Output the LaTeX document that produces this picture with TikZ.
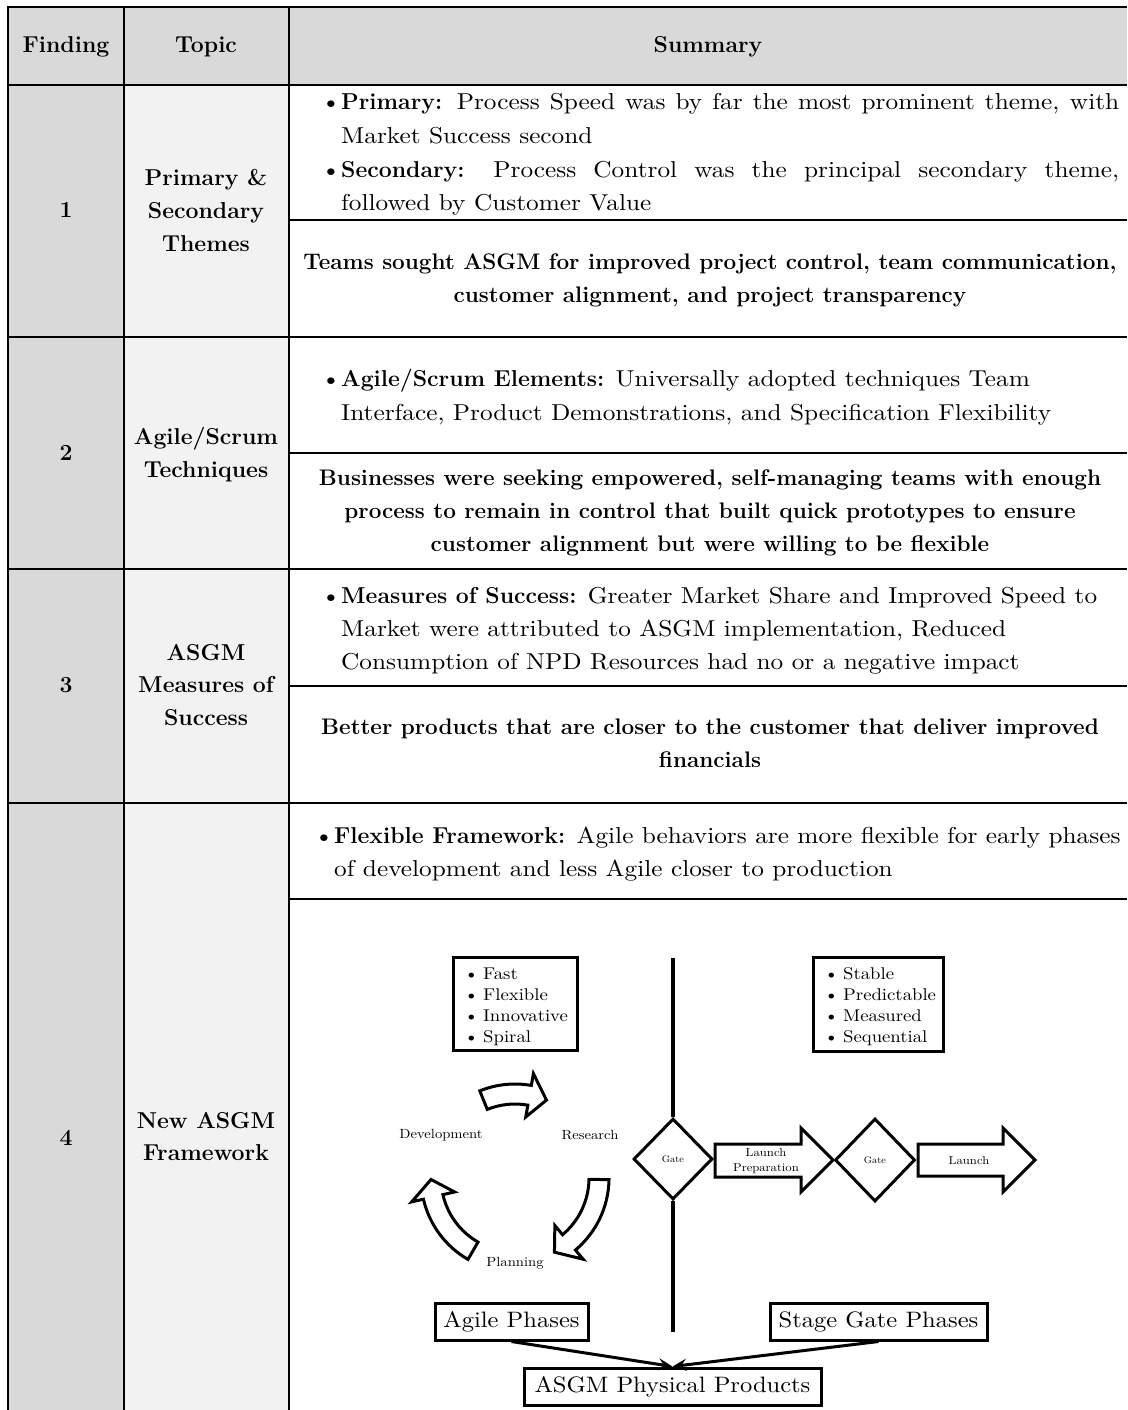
\documentclass[tikz,border=0pt]{standalone}
\usepackage{fontspec}
\usetikzlibrary{calc,arrows.meta,shapes.geometric}
\newfontfamily\bodyrm{lmroman10-regular}[Extension=.otf, FakeStretch=1.1]
\definecolor{hdrgray}{HTML}{D9D9D9}
\definecolor{litegray}{HTML}{F2F2F2}
\newcommand{\fbody}{\bodyrm\fontsize{23}{33}\selectfont}
\newcommand{\fbold}{\fontsize{23}{33}\selectfont\bfseries}
\newcommand{\fcent}{\fontsize{22.5}{33}\selectfont\bfseries}
\newcommand{\bl}[1]{{\normalfont\fontsize{23}{33}\selectfont\bfseries #1}}
\newcommand{\fitem}{\bodyrm\fontsize{17}{21}\selectfont}
\newcommand{\fcyc}{\bodyrm\fontsize{13.3}{15}\selectfont}
\newcommand{\fgate}{\bodyrm\fontsize{9.5}{12}\selectfont}
\newcommand{\flaunch}{\bodyrm\fontsize{11.5}{14.5}\selectfont}
\newcommand{\fbig}{\bodyrm\fontsize{22.3}{26}\selectfont}
\newcommand{\cycarrow}[3]{%
  \draw[blk] ($(cc)+(#1:74)$) arc[start angle=#1, end angle=#2, radius=74]
    -- ($(cc)+(#2:62)$) -- ($(cc)+(#3:84)$) -- ($(cc)+(#2:106)$)
    -- ($(cc)+(#2:94)$) arc[start angle=#2, end angle=#1, radius=94] -- cycle;}
\tikzset{
  tbl/.style={line width=2pt, black},
  txt/.style={anchor=base west, inner sep=0pt, font=\fbody},
  ctxt/.style={anchor=base, inner sep=0pt, font=\fbold},
  cline/.style={anchor=base, inner sep=0pt, font=\fcent},
  box/.style={draw, line width=3pt, fill=white, inner sep=0pt},
  vline/.style={line width=4pt},
  blk/.style={draw, line width=3pt, fill=white, line join=miter},
  conn/.style={line width=3pt, -{Stealth[length=14pt,width=12pt,inset=5pt]}},
  itm/.style={anchor=base west, inner sep=0pt, font=\fitem},
  gatebox/.style={diamond, draw, line width=3pt, fill=white, inner sep=0pt, font=\fgate},
}
\begin{document}
\begin{tikzpicture}[x=1pt,y=-1pt]
\useasboundingbox (0,0) rectangle (1127,1410);
\fill[white] (0,0) rectangle (1127,1410);
% cell fills
\fill[hdrgray] (8,7) rectangle (1127,85);
\fill[hdrgray] (8,85) rectangle (124,1410);
\fill[litegray] (124,85) rectangle (289,1410);
% table lines
\draw[tbl] (8,1410) -- (8,7) -- (1127,7);
\draw[tbl] (124,7) -- (124,1410);
\draw[tbl] (289,7) -- (289,1410);
\foreach \yy in {85,337,569,803} {\draw[tbl] (8,\yy) -- (1127,\yy);}
\foreach \yy in {220,453,686,899} {\draw[tbl] (289,\yy) -- (1127,\yy);}

% header
\node[ctxt] (hfind) at (66,53) {Finding};
\node[ctxt] (htopic) at (206,53) {Topic};
\node[ctxt] (hsum) at (708,53) {Summary};

% finding numbers
\node[ctxt] (n1) at (66,217) {1};
\node[ctxt] (n2) at (66,460) {2};
\node[ctxt] (n3) at (66,692) {3};
\node[ctxt] (n4) at (66,1145) {4};

% topics
\node[ctxt] (t1a) at (206,185) {Primary \&};
\node[ctxt] (t1b) at (206,218) {Secondary};
\node[ctxt] (t1c) at (206,251) {Themes};
\node[ctxt] (t2a) at (206,444) {Agile/Scrum};
\node[ctxt] (t2b) at (206,477) {Techniques};
\node[ctxt] (t3a) at (206,660) {ASGM};
\node[ctxt] (t3b) at (206,692) {Measures of};
\node[ctxt] (t3c) at (206,725) {Success};
\node[ctxt] (t4a) at (206,1128) {New ASGM};
\node[ctxt] (t4b) at (206,1160) {Framework};

% row 1
\node[txt] (b1a) at (321,110) {\textbullet};
\node[txt] (r1a) at (341,110) {\makebox[778pt][s]{\bl{Primary:} Process Speed was by far the most prominent theme, with}};
\node[txt] (r1b) at (341,143) {Market Success second};
\node[txt] (b1b) at (321,177) {\textbullet};
\node[txt] (r1c) at (341,177) {\makebox[778pt][s]{\bl{Secondary:} Process Control was the principal secondary theme,}};
\node[txt] (r1d) at (341,210) {followed by Customer Value};
\node[cline] (s1a) at (710,269) {Teams sought ASGM for improved project control, team communication,};
\node[cline] (s1b) at (710,302) {customer alignment, and project transparency};

% row 2
\node[txt] (b2) at (321,386) {\textbullet};
\node[txt] (r2a) at (341,386) {\bl{Agile/Scrum Elements:} Universally adopted techniques Team};
\node[txt] (r2b) at (341,420) {Interface, Product Demonstrations, and Specification Flexibility};
\node[cline] (s2a) at (710,485) {Businesses were seeking empowered, self-managing teams with enough};
\node[cline] (s2b) at (710,518) {process to remain in control that built quick prototypes to ensure};
\node[cline] (s2c) at (710,551) {customer alignment but were willing to be flexible};

% row 3
\node[txt] (b3) at (321,603) {\textbullet};
\node[txt] (r3a) at (341,603) {\bl{Measures of Success:} Greater Market Share and Improved Speed to};
\node[txt] (r3b) at (341,636) {Market were attributed to ASGM implementation, Reduced};
\node[txt] (r3c) at (341,669) {Consumption of NPD Resources had no or a negative impact};
\node[cline] (s3a) at (710,734) {Better products that are closer to the customer that deliver improved};
\node[cline] (s3b) at (710,767) {financials};

% row 4
\node[txt] (b4) at (314,843) {\textbullet};
\node[txt] (r4a) at (334,843) {\bl{Flexible Framework:} Agile behaviors are more flexible for early phases};
\node[txt] (r4b) at (334,876) {of development and less Agile closer to production};

% ---------- diagram ----------
\node[box, minimum width=124pt, minimum height=93pt] (fastbox) at (515,1003.5) {};
\foreach \t [count=\i] in {Fast,Flexible,Innovative,Spiral} {
  \node[itm] (fb\i) at (464,{979+21.3*(\i-1)}) {\textbullet};
  \node[itm] (ft\i) at (483,{979+21.3*(\i-1)}) {\t};
}
\node[box, minimum width=130pt, minimum height=94pt] (stablebox) at (878,1004) {};
\foreach \t [count=\i] in {Stable,Predictable,Measured,Sequential} {
  \node[itm] (sb\i) at (824,{979+21.3*(\i-1)}) {\textbullet};
  \node[itm] (st\i) at (843,{979+21.3*(\i-1)}) {\t};
}

% vertical divider and gates
\coordinate (vtop) at (673,958);
\coordinate (vbot) at (673,1332);
\node[gatebox, minimum width=79pt, minimum height=81pt] (gate1) at (673,1159) {Gate};
\draw[vline] (vtop) -- (gate1.north);
\draw[vline] (gate1.south) -- (vbot);
\node[gatebox, minimum width=80pt, minimum height=83pt] (gate2) at (875,1160) {Gate};

% block arrows
\draw[blk] (715,1144) -- (801,1144) -- (801,1128) -- (833,1160) -- (801,1192) -- (801,1177) -- (715,1177) -- cycle;
\node[inner sep=0pt, align=center, font=\flaunch] (lprep) at (766,1161) {Launch\\Preparation};
\draw[blk] (918,1144) -- (1003,1144) -- (1003,1128) -- (1035,1160) -- (1003,1192) -- (1003,1176) -- (918,1176) -- cycle;
\node[inner sep=0pt, font=\flaunch] (launch) at (969,1161) {Launch};

% agile cycle
\coordinate (cc) at (515,1178);
\cycarrow{-112}{-80}{-68}
\cycarrow{1}{50}{62}
\cycarrow{120}{167}{179}
\node[inner sep=0pt, font=\fcyc] (dev) at (441,1135) {Development};
\node[inner sep=0pt, font=\fcyc] (res) at (590,1135) {Research};
\node[inner sep=0pt, font=\fcyc] (plan) at (515,1263) {Planning};

% bottom boxes
\node[box, font=\fbig, minimum width=153pt, minimum height=37pt] (agile) at (511.5,1321.5) {Agile Phases};
\node[box, font=\fbig, minimum width=217pt, minimum height=37pt] (stage) at (878.5,1321.5) {Stage Gate Phases};
\node[box, font=\fbig, minimum width=297pt, minimum height=37pt] (asgm) at (672.5,1386.5) {ASGM Physical Products};
\draw[conn] (agile.south) -- (asgm.north);
\draw[conn] (stage.south) -- (asgm.north);
\end{tikzpicture}
\end{document}
